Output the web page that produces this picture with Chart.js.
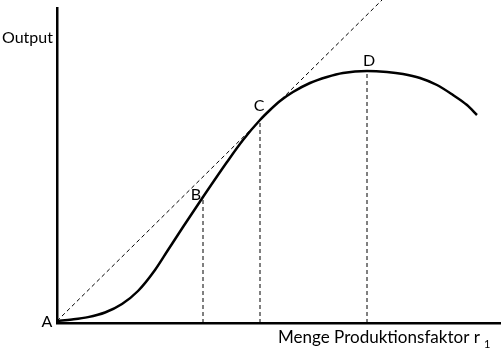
<!DOCTYPE html>
<html>
<head>
<meta charset="utf-8">
<script src="https://cdn.jsdelivr.net/npm/chart.js@4.4.0/dist/chart.umd.min.js"></script>
<style>
html,body{margin:0;padding:0;background:#fff;}
#wrap{width:501px;height:355px;}
</style>
</head>
<body>
<div id="wrap"><canvas id="c" width="501" height="355"></canvas></div>
<script>
// Production curve (input quantity x, output y)
const curveX = [0, 15, 31, 48, 65, 81, 98, 111, 126, 146, 170, 186, 203, 213, 223, 236, 253, 270, 286, 310, 330, 346, 363, 380, 396, 410, 420];
const curveY = [2, 3.5, 5.9, 10.5, 19, 32, 53, 73, 96, 126, 161, 183, 203, 213, 222, 231, 240, 246, 250, 252, 251, 249, 245, 238, 228, 218, 208];
// Ray from origin (tangent at C)
const rayX = [0, 325];
const rayY = [2, 323];
// Marked points
const markLabels = ['A', 'B', 'C', 'D'];
const markX = [0, 146, 203, 310];
const markY = [2, 126, 203, 252];
const yTitle = 'Output';
const xTitle = 'Menge Produktionsfaktor r';
const xTitleSub = '1';

const curve = curveX.map((x, i) => ({x, y: curveY[i]}));
const ray = rayX.map((x, i) => ({x, y: rayY[i]}));
const drops = [];
for (let i = 1; i < markX.length; i++) {
  drops.push({
    data: [{x: markX[i], y: 0}, {x: markX[i], y: markY[i]}],
    showLine: true, borderColor: '#000', borderWidth: 1, borderDash: [4, 3],
    pointRadius: 0, fill: false
  });
}

const FONT = 'Lato, "Open Sans", sans-serif';
const textPlugin = {
  id: 'texts',
  afterDraw(chart) {
    const ctx = chart.ctx;
    const xs = chart.scales.x, ys = chart.scales.y;
    ctx.save();
    ctx.fillStyle = '#000';
    ctx.font = '16px ' + FONT;
    ctx.textBaseline = 'alphabetic';
    const offs = [[-10, 6], [-7, 3], [-1, -9], [2, -5]];
    markLabels.forEach((t, i) => {
      const px = xs.getPixelForValue(markX[i]) + offs[i][0];
      const py = ys.getPixelForValue(markY[i]) + offs[i][1];
      ctx.textAlign = 'center';
      ctx.fillText(t, px, py);
    });
    ctx.textAlign = 'left';
    ctx.fillText(yTitle, 2, 43);
    // x title with subscript, fitted to the reference width
    ctx.font = '16px ' + FONT;
    const w16 = ctx.measureText(xTitle).width;
    const size = 16 * 202 / w16;
    ctx.font = size.toFixed(2) + 'px ' + FONT;
    ctx.fillText(xTitle, 278, 343);
    ctx.font = '11px ' + FONT;
    ctx.fillText(xTitleSub, 484, 348);
    ctx.restore();
  }
};

new Chart(document.getElementById('c'), {
  type: 'scatter',
  data: {
    datasets: [
      {data: ray, showLine: true, borderColor: '#000', borderWidth: 1, borderDash: [4, 3], pointRadius: 0, clip: false},
      ...drops,
      {data: curve, showLine: true, borderColor: '#000', borderWidth: 2.5, pointRadius: 0, cubicInterpolationMode: 'monotone'}
    ]
  },
  options: {
    responsive: false,
    animation: false,
    layout: {padding: {left: 57, right: 1, top: 8, bottom: 32}},
    plugins: {legend: {display: false}, tooltip: {enabled: false}},
    scales: {
      x: {type: 'linear', min: 0, max: 443, ticks: {display: false}, grid: {display: false},
          border: {display: true, color: '#000', width: 2.5},
          afterFit(s) { s.height = 0; }},
      y: {type: 'linear', min: 0, max: 315, ticks: {display: false}, grid: {display: false},
          border: {display: true, color: '#000', width: 2.5},
          afterFit(s) { s.width = 0; }}
    }
  },
  plugins: [textPlugin]
});
</script>
</body>
</html>
